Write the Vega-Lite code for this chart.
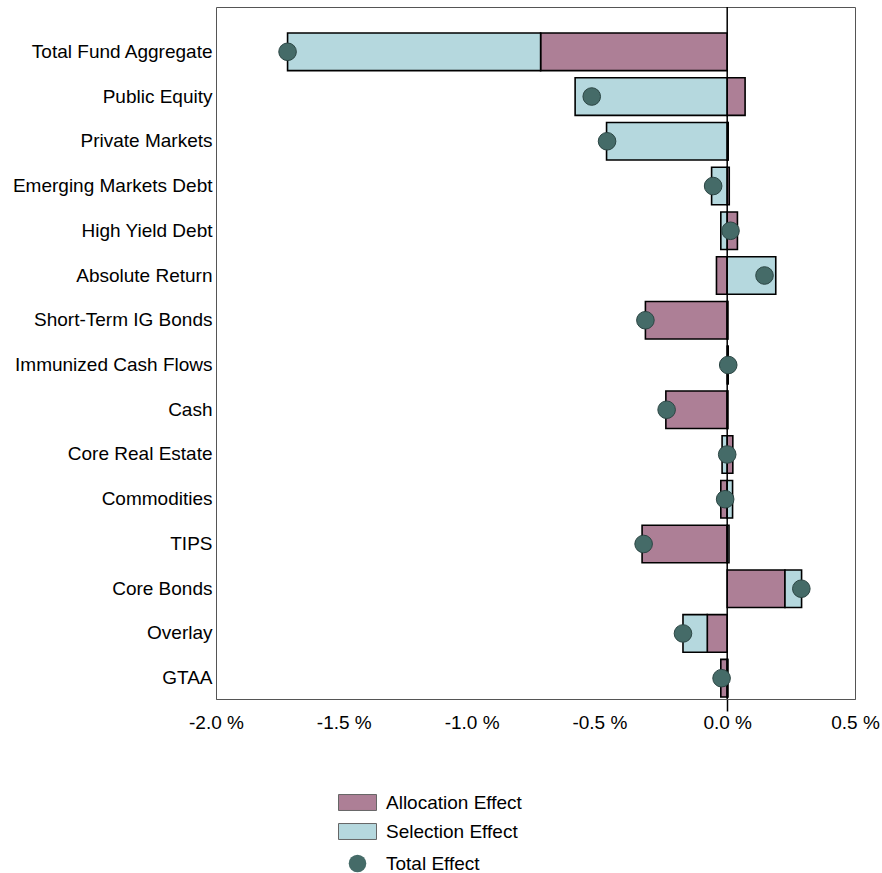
{
  "$schema": "https://vega.github.io/schema/vega-lite/v6.json",
  "width": 639,
  "height": 692,
  "autosize": {"type": "none"},
  "padding": {"left": 216, "top": 7, "right": 27, "bottom": 174},
  "background": "white",
  "config": {
    "view": {"stroke": "#555", "strokeWidth": 1},
    "font": "Liberation Sans"
  },
  "datasets": {
    "effects": [
      {"cat": "Total Fund Aggregate", "effect": "Allocation Effect", "value": -0.73},
      {"cat": "Total Fund Aggregate", "effect": "Selection Effect", "value": -0.99},
      {"cat": "Public Equity", "effect": "Allocation Effect", "value": 0.07},
      {"cat": "Public Equity", "effect": "Selection Effect", "value": -0.595},
      {"cat": "Private Markets", "effect": "Allocation Effect", "value": 0.004},
      {"cat": "Private Markets", "effect": "Selection Effect", "value": -0.472},
      {"cat": "Emerging Markets Debt", "effect": "Allocation Effect", "value": 0.008},
      {"cat": "Emerging Markets Debt", "effect": "Selection Effect", "value": -0.061},
      {"cat": "High Yield Debt", "effect": "Allocation Effect", "value": 0.04},
      {"cat": "High Yield Debt", "effect": "Selection Effect", "value": -0.025},
      {"cat": "Absolute Return", "effect": "Allocation Effect", "value": -0.042},
      {"cat": "Absolute Return", "effect": "Selection Effect", "value": 0.19},
      {"cat": "Short-Term IG Bonds", "effect": "Allocation Effect", "value": -0.32},
      {"cat": "Short-Term IG Bonds", "effect": "Selection Effect", "value": 0.003},
      {"cat": "Immunized Cash Flows", "effect": "Allocation Effect", "value": 0.002},
      {"cat": "Immunized Cash Flows", "effect": "Selection Effect", "value": 0.002},
      {"cat": "Cash", "effect": "Allocation Effect", "value": -0.24},
      {"cat": "Cash", "effect": "Selection Effect", "value": 0.003},
      {"cat": "Core Real Estate", "effect": "Allocation Effect", "value": 0.022},
      {"cat": "Core Real Estate", "effect": "Selection Effect", "value": -0.02},
      {"cat": "Commodities", "effect": "Allocation Effect", "value": -0.025},
      {"cat": "Commodities", "effect": "Selection Effect", "value": 0.021},
      {"cat": "TIPS", "effect": "Allocation Effect", "value": -0.333},
      {"cat": "TIPS", "effect": "Selection Effect", "value": 0.007},
      {"cat": "Core Bonds", "effect": "Allocation Effect", "value": 0.226},
      {"cat": "Core Bonds", "effect": "Selection Effect", "value": 0.065},
      {"cat": "Overlay", "effect": "Allocation Effect", "value": -0.078},
      {"cat": "Overlay", "effect": "Selection Effect", "value": -0.095},
      {"cat": "GTAA", "effect": "Allocation Effect", "value": -0.025},
      {"cat": "GTAA", "effect": "Selection Effect", "value": 0.003}
    ],
    "totals": [
      {"cat": "Total Fund Aggregate", "total": -1.72},
      {"cat": "Public Equity", "total": -0.53},
      {"cat": "Private Markets", "total": -0.47},
      {"cat": "Emerging Markets Debt", "total": -0.055},
      {"cat": "High Yield Debt", "total": 0.013},
      {"cat": "Absolute Return", "total": 0.146},
      {"cat": "Short-Term IG Bonds", "total": -0.32},
      {"cat": "Immunized Cash Flows", "total": 0.004},
      {"cat": "Cash", "total": -0.237},
      {"cat": "Core Real Estate", "total": 0.0},
      {"cat": "Commodities", "total": -0.008},
      {"cat": "TIPS", "total": -0.327},
      {"cat": "Core Bonds", "total": 0.29},
      {"cat": "Overlay", "total": -0.173},
      {"cat": "GTAA", "total": -0.022}
    ]
  },
  "layer": [
    {
      "data": {"name": "effects"},
      "mark": {"type": "bar", "stroke": "#000", "strokeWidth": 1.6},
      "encoding": {
        "y": {
          "field": "cat",
          "type": "nominal",
          "sort": ["Total Fund Aggregate", "Public Equity", "Private Markets", "Emerging Markets Debt", "High Yield Debt", "Absolute Return", "Short-Term IG Bonds", "Immunized Cash Flows", "Cash", "Core Real Estate", "Commodities", "TIPS", "Core Bonds", "Overlay", "GTAA"],
          "scale": {"range": [26, 690], "paddingInner": 0.16, "paddingOuter": 0},
          "axis": {
            "title": null,
            "ticks": false,
            "domain": false,
            "labelFont": "Liberation Sans",
            "labelFontSize": 19,
            "labelColor": "#000",
            "labelPadding": 4,
            "labelLimit": 300
          }
        },
        "x": {
          "field": "value",
          "type": "quantitative",
          "stack": "zero",
          "scale": {"domain": [-2, 0.5], "nice": false, "zero": false},
          "axis": {
            "title": null,
            "values": [-2, -1.5, -1, -0.5, 0, 0.5],
            "labelExpr": "replace(format(datum.value, '.1f'), '\u2212', '-') + ' %'",
            "grid": false,
            "ticks": true,
            "tickSize": 12,
            "tickColor": "#000",
            "tickWidth": 1.5,
            "tickOpacity": {"condition": {"test": "datum.value === 0", "value": 1}, "value": 0},
            "domain": true,
            "domainColor": "#555",
            "labelFont": "Liberation Sans",
            "labelFontSize": 19,
            "labelColor": "#000",
            "labelPadding": 2,
            "labelFlush": false
          }
        },
        "fill": {
          "field": "effect",
          "type": "nominal",
          "scale": {
            "domain": ["Allocation Effect", "Selection Effect"],
            "range": ["#AD7F96", "#B5D8DE"]
          },
          "legend": {
            "title": null,
            "orient": "none",
            "legendX": 122,
            "legendY": 781,
            "direction": "vertical",
            "symbolType": "M-1,-0.42H1V0.42H-1Z",
            "symbolSize": 1444,
            "symbolStrokeColor": "#666",
            "symbolStrokeWidth": 1,
            "symbolOpacity": 1,
            "clipHeight": 29,
            "rowPadding": 0,
            "labelFont": "Liberation Sans",
            "labelFontSize": 19,
            "labelColor": "#000",
            "labelOffset": 9
          }
        },
        "order": {"field": "effect"}
      }
    },
    {
      "data": {"values": [{"z": 0}]},
      "mark": {"type": "rule", "color": "#000", "strokeWidth": 1.5},
      "encoding": {"x": {"field": "z", "type": "quantitative"}}
    },
    {
      "data": {"name": "totals"},
      "mark": {"type": "point", "filled": true, "fill": "#456B68", "size": 310, "stroke": "#2b4543", "strokeWidth": 1, "opacity": 1, "fillOpacity": 1},
      "encoding": {
        "y": {"field": "cat", "type": "nominal", "sort": ["Total Fund Aggregate", "Public Equity", "Private Markets", "Emerging Markets Debt", "High Yield Debt", "Absolute Return", "Short-Term IG Bonds", "Immunized Cash Flows", "Cash", "Core Real Estate", "Commodities", "TIPS", "Core Bonds", "Overlay", "GTAA"]},
        "x": {"field": "total", "type": "quantitative"},
        "shape": {
          "datum": "Total Effect",
          "scale": {"domain": ["Total Effect"], "range": ["circle"]},
          "legend": {
            "title": null,
            "orient": "none",
            "legendX": 132,
            "legendY": 842,
            "symbolSize": 310,
            "symbolFillColor": "#456B68",
            "symbolStrokeColor": "#2b4543",
            "symbolStrokeWidth": 1,
            "symbolOpacity": 1,
            "clipHeight": 29,
            "labelFont": "Liberation Sans",
            "labelFontSize": 19,
            "labelColor": "#000",
            "labelOffset": 19
          }
        }
      }
    }
  ]
}
